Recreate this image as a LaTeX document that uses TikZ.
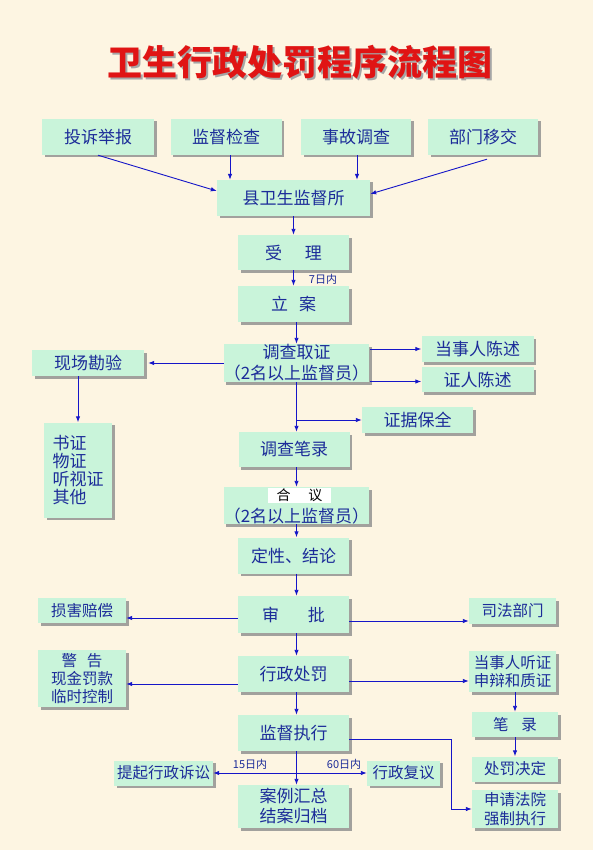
\documentclass[tikz,border=0pt]{standalone}
\usepackage{fontspec}
\setmainfont{Noto Sans CJK SC}
\usetikzlibrary{shadows,arrows.meta}
\definecolor{bg}{HTML}{FDF5E2}
\definecolor{boxfill}{HTML}{C9F4DA}
\definecolor{txt}{HTML}{1C2C99}
\definecolor{arrowblue}{HTML}{1515C8}
\definecolor{titlered}{HTML}{E01414}
\begin{document}
\begin{tikzpicture}[x=1pt,y=-1pt,
  box/.style={fill=boxfill, text=txt, inner sep=0pt, align=center,
    font=\fontsize{17}{21}\selectfont,
    drop shadow={shadow xshift=2.5pt, shadow yshift=-2.5pt, fill=black!45, opacity=0.8}},
  sbox/.style={box, font=\fontsize{15.5}{18.3}\selectfont},
  lbl/.style={text=txt, inner sep=0pt, font=\fontsize{11}{12}\selectfont},
  arr/.style={draw=arrowblue, line width=0.9pt, -{Latex[length=6pt,width=4.5pt]}},
  ln/.style={draw=arrowblue, line width=0.9pt}]
\fill[bg] (0,0) rectangle (593,850);
\useasboundingbox (0,0) rectangle (593,850);
% title
\node[text=black!35, inner sep=0pt, font=\fontsize{35}{40}\selectfont\bfseries] (titleshadow) at (302,64.5) {卫生行政处罚程序流程图};
\node[text=titlered, inner sep=0pt, font=\fontsize{35}{40}\selectfont\bfseries] (title) at (300,62) {卫生行政处罚程序流程图};
% sources
\node[box, minimum width=112pt, minimum height=36pt] (n1) at (98,137) {投诉举报};
\node[box, minimum width=111pt, minimum height=36pt] (n2) at (226,137) {监督检查};
\node[box, minimum width=110pt, minimum height=36pt] (n3) at (356,137) {事故调查};
\node[box, minimum width=110pt, minimum height=36pt] (n4) at (483,137) {部门移交};
\node[box, minimum width=153pt, minimum height=36pt] (county) at (293.5,198) {县卫生监督所};
\node[box, minimum width=111pt, minimum height=35pt] (accept) at (293.5,252.5) {受\hspace{23pt}理};
\node[box, minimum width=111pt, minimum height=36pt] (file) at (293.5,304) {立\hspace{11pt}案};
\node[box, minimum width=141pt, minimum height=38pt] (inv) at (296.5,363) {调查取证\\（2名以上监督员）};
\node[box, minimum width=112pt, minimum height=26pt] (party) at (477.5,349) {当事人陈述};
\node[box, minimum width=112pt, minimum height=25pt] (witness) at (477.5,379.5) {证人陈述};
\node[box, minimum width=112pt, minimum height=26pt] (site) at (88,363) {现场勘验};
\node[box, align=left, minimum width=68pt, minimum height=95pt, font=\fontsize{17}{17.7}\selectfont] (docs) at (78,470) {书证\\物证\\听视证\\其他};
\node[box, minimum width=111pt, minimum height=26pt] (preserve) at (417.5,420) {证据保全};
\node[box, minimum width=111pt, minimum height=35pt] (record) at (294,449.5) {调查笔录};
\node[box, minimum width=141pt, minimum height=37pt] (delib) at (296.5,505.5) {\phantom{合议}\\（2名以上监督员）};
\node[fill=white, text=black, inner sep=0pt, minimum width=63pt, minimum height=15pt, font=\fontsize{14}{15}\selectfont] (delibtitle) at (299.5,495.5) {合\hspace{18pt}议};
\node[box, minimum width=111pt, minimum height=36pt] (concl) at (293.5,555.5) {定性、结论};
\node[box, minimum width=111pt, minimum height=37pt] (approve) at (293.5,614.5) {审\hspace{29pt}批};
\node[sbox, minimum width=88pt, minimum height=25pt] (damage) at (82,610.5) {损害赔偿};
\node[sbox, minimum width=87pt, minimum height=26pt] (judicial) at (512.5,611) {司法部门};
\node[sbox, minimum width=88pt, minimum height=57pt] (warn) at (82,678.5) {警\hspace{10pt}告\\现金罚款\\临时控制};
\node[box, minimum width=111pt, minimum height=36pt] (punish) at (293.5,674) {行政处罚};
\node[sbox, minimum width=87pt, minimum height=41pt] (hearing) at (512.5,671.5) {当事人听证\\申辩和质证};
\node[sbox, minimum width=86pt, minimum height=25pt] (notes) at (515,724.5) {笔\hspace{13pt}录};
\node[box, minimum width=111pt, minimum height=36pt] (supervise) at (293.5,733) {监督执行};
\node[sbox, minimum width=86pt, minimum height=25pt] (decision) at (515,769) {处罚决定};
\node[sbox, minimum width=99pt, minimum height=25pt] (lawsuit) at (163.5,773) {提起行政诉讼};
\node[sbox, minimum width=73pt, minimum height=25pt] (review) at (403.5,773) {行政复议};
\node[box, minimum width=111pt, minimum height=43pt, font=\fontsize{17}{20}\selectfont] (archive) at (293.5,806.5) {案例汇总\\结案归档};
\node[sbox, minimum width=86pt, minimum height=38pt] (court) at (515,809) {申请法院\\强制执行};
% labels
\node[lbl] (l7) at (323,279) {7日内};
\node[lbl] (l15) at (250,764) {15日内};
\node[lbl] (l60) at (344,764) {60日内};
% coordinates
\coordinate (split) at (296.5,773);
\coordinate (bend) at (451,739);
% connectors
\draw[arr] (n1.south) -- ([yshift=7pt]county.west);
\draw[arr] ([xshift=4pt]n2.south) -- ([xshift=4pt]n2.south |- county.north);
\draw[arr] ([xshift=1pt]n3.south) -- ([xshift=1pt]n3.south |- county.north);
\draw[arr] ([xshift=4pt,yshift=-4pt]n4.south) -- ([yshift=4pt]county.east);
\draw[arr] (county.south) -- (accept.north);
\draw[arr] (accept.south) -- (file.north);
\draw[arr] (file.south -| inv.north) -- (inv.north);
\draw[arr, shorten >=4pt] (inv.west) -- (site.east);
\draw[arr] ([xshift=1pt]inv.east |- party.west) -- (party.west);
\draw[arr] ([xshift=1pt,yshift=-2pt]inv.east |- witness.west) -- ([yshift=-2pt]witness.west);
\draw[arr] (inv.south) -- (inv.south |- record.north);
\draw[arr] (inv.south |- preserve.west) -- (preserve.west);
\draw[arr] (docs.north |- site.south) -- (docs.north);
\draw[arr] (record.south -| delib.north) -- (delib.north);
\draw[arr] (delib.south) -- (delib.south |- concl.north);
\draw[arr] (concl.south -| delib.south) -- (approve.north -| delib.south);
\draw[arr] ([yshift=-3.5pt]approve.west) -- ([yshift=-3.5pt]approve.west -| damage.east);
\draw[arr] ([yshift=-6.5pt]approve.east) -- ([yshift=-6.5pt]approve.east -| judicial.west);
\draw[arr] (approve.south -| delib.south) -- (punish.north -| delib.south);
\draw[arr] ([yshift=-10pt]punish.west) -- ([yshift=-10pt]punish.west -| warn.east);
\draw[arr] ([yshift=-7pt]punish.east) -- ([yshift=-7pt]punish.east -| hearing.west);
\draw[arr] (notes.north |- hearing.south) -- (notes.north);
\draw[arr] (notes.south) -- (decision.north);
\draw[arr] (punish.south -| delib.south) -- (supervise.north -| delib.south);
\draw[ln] ([yshift=-6pt]supervise.east) -- (bend);
\draw[arr] (bend) |- (court.west);
\draw[arr] (supervise.south -| split) -- (archive.north -| split);
\draw[arr] (split) -- (lawsuit.east);
\draw[arr] (split) -- (review.west);
\end{tikzpicture}
\end{document}
